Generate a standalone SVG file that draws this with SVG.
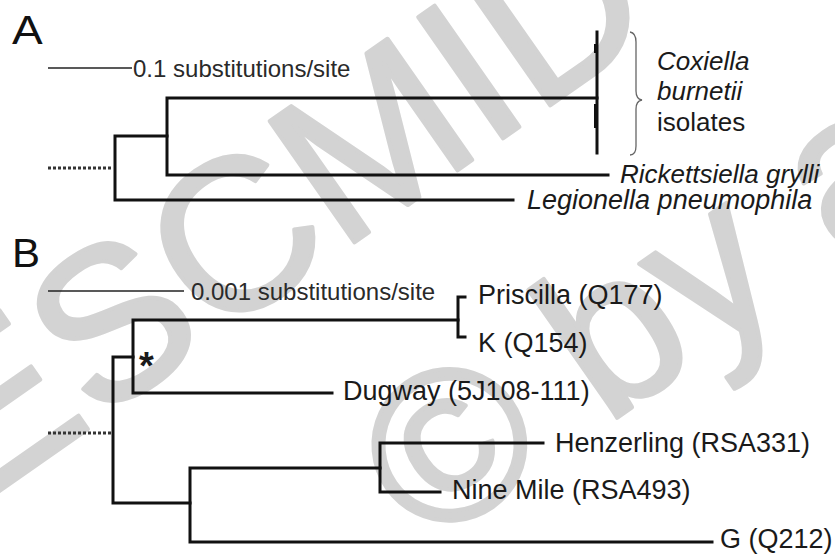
<svg xmlns="http://www.w3.org/2000/svg" width="835" height="554" viewBox="0 0 835 554">
<style>
.wm{font-family:"Liberation Sans",Arial,sans-serif;font-size:215px;fill:#d3d3d3;stroke:#d3d3d3;stroke-width:4;stroke-linejoin:round}
.br{fill:none;stroke:#111;stroke-width:3;stroke-linecap:square;stroke-linejoin:miter}
.dash{fill:none;stroke:#333;stroke-width:3;stroke-dasharray:3 2}
.sb{fill:none;stroke:#222;stroke-width:1.5}
.lab{font-family:"Liberation Sans",Arial,sans-serif;font-size:27px;fill:#1a1a1a}
.it{font-style:italic}
.sc{font-family:"Liberation Sans",Arial,sans-serif;font-size:24px;fill:#2a2a2a}
.pan{font-family:"Liberation Sans",Arial,sans-serif;font-size:40px;fill:#111}
</style>
<rect width="835" height="554" fill="#fff"/>
<g id="watermark">
<text class="wm" transform="translate(-22,506) rotate(-35)">ESCMID</text>
<text class="wm" transform="translate(427,551) rotate(-35)">© by author</text>
</g>
<g id="panel-labels">
<text class="pan" transform="translate(12,44) scale(1.15,1)">A</text>
<text class="pan" transform="translate(12,267) scale(1.05,1)">B</text>
</g>
<g id="scale-A">
<line class="sb" x1="48" y1="68" x2="132" y2="68"/>
<text class="sc" x="133" y="77">0.1 substitutions/site</text>
</g>
<g id="scale-B">
<line class="sb" x1="48" y1="291" x2="184" y2="291"/>
<text class="sc" x="191" y="300">0.001 substitutions/site</text>
</g>
<g id="connectors">
<path class="dash" d="M48,168 H112"/>
<path class="br" d="M167,136 H115 V200 H513"/>
<path class="br" d="M597,98 H167 V175 H608"/>
<path class="br" d="M597,32 V153"/>
<rect x="594" y="44" width="4" height="9" fill="#111"/>
<rect x="594" y="104" width="4" height="24" fill="#111"/>
<path d="M630,32 Q636,33 636,42 V91 Q636,99 642,100 Q636,101 636,109 V146 Q636,155 630,155" fill="none" stroke="#666" stroke-width="1.3"/>
<path class="dash" d="M48,433 H111"/>
<path class="br" d="M133,357 H113 V503 H190"/>
<path class="br" d="M458,320 H133 V393 H332"/>
<path class="br" d="M465,297 H458 V337 H465"/>
<path class="br" d="M380,468 H190 V542 H712"/>
<path class="br" d="M543,443 H380 V492 H440"/>
</g>
<g id="node-coxiella">
<text class="lab it" x="657" y="70" style="font-size:26px">Coxiella</text>
<text class="lab it" x="657" y="100" style="font-size:26px">burnetii</text>
<text class="lab" x="657" y="131" style="font-size:26px">isolates</text>
</g>
<g id="node-rickettsiella"><text class="lab it" x="620" y="183" style="font-size:26px">Rickettsiella grylli</text></g>
<g id="node-legionella"><text class="lab it" x="527" y="209">Legionella pneumophila</text></g>
<g id="node-priscilla"><text class="lab" x="478" y="304">Priscilla (Q177)</text></g>
<g id="node-k"><text class="lab" x="478" y="352">K (Q154)</text></g>
<g id="node-dugway"><text class="lab" x="343" y="400">Dugway (5J108-111)</text></g>
<g id="node-henzerling"><text class="lab" x="555" y="452">Henzerling (RSA331)</text></g>
<g id="node-ninemile"><text class="lab" x="452" y="499">Nine Mile (RSA493)</text></g>
<g id="node-g"><text class="lab" x="720" y="548">G (Q212)</text></g>
<g id="support"><text class="lab" x="139" y="379" style="font-size:38px;font-weight:bold">*</text></g>
</svg>
